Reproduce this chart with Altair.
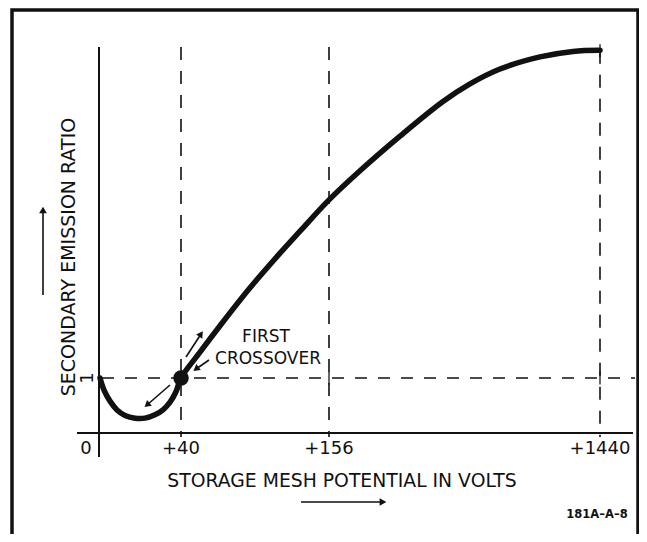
import altair as alt
import pandas as pd

# ---- data ----
volts = [0, 1.98, 4.94, 8.40, 12.35, 17.28, 22.22, 27.16, 31.11, 34.57, 37.53, 40,
         54.9, 70.6, 94.1, 117.6, 133.3, 156,
         302.9, 492.4, 696.1, 824.1, 966.2, 1155.7, 1312.1, 1440]
ratio = [1.0, 0.78, 0.58, 0.42, 0.32, 0.27, 0.27, 0.33, 0.42, 0.56, 0.75, 1.0,
         1.47, 1.95, 2.64, 3.27, 3.67, 4.24,
         4.77, 5.40, 6.03, 6.35, 6.62, 6.84, 6.94, 6.96]
tick_values = [0, 40, 156, 1440]
tick_labels = ["0", "+40", "+156", "+1440"]
guide_volts = [40, 156, 1440]
guide_tops = [7.02, 7.02, 6.95]
crossover_v = [40]
crossover_r = [1.0]
unity = [1.0]
cross_v = [156, 1440, 1440]
cross_r = [1.0, 1.0, 6.95]

curve_df = pd.DataFrame({"v": volts, "r": ratio})
ticks_df = pd.DataFrame({"v": tick_values, "label": tick_labels})
guides_df = pd.DataFrame({"v": guide_volts, "top": guide_tops})
dot_df = pd.DataFrame({"v": crossover_v, "r": crossover_r})
unity_df = pd.DataFrame({"r": unity})
cross_df = pd.DataFrame({"v": cross_v, "r": cross_r})
one = pd.DataFrame({"k": [0]})

FONT = "DejaVu Sans"
INK = "#111111"

xs = alt.Scale(domain=tick_values, range=[0, 81, 229, 500])
ys = alt.Scale(domain=[0, 7.02], nice=False, zero=True)
X = lambda f: alt.X(f, type="quantitative", scale=xs, axis=None)
Y = lambda f: alt.Y(f, type="quantitative", scale=ys, axis=None)

frame = alt.Chart(one).mark_rect(fillOpacity=0, stroke=INK, strokeWidth=3.5).encode(
    x=alt.value(-88), x2=alt.value(538), y=alt.value(-37), y2=alt.value(490))

yline = alt.Chart(one).mark_rule(color=INK, strokeWidth=2).encode(
    x=alt.value(-1), y=alt.value(0), y2=alt.value(410))
xline = alt.Chart(one).mark_rule(color=INK, strokeWidth=2).encode(
    x=alt.value(-23), x2=alt.value(533), y=alt.value(386))

vguides = alt.Chart(guides_df).mark_rule(color=INK, strokeWidth=1.6, strokeDash=[13, 11]).encode(
    x=X("v"), y=Y("top"), y2=alt.value(390))
hguide = alt.Chart(unity_df).mark_rule(color=INK, strokeWidth=1.6, strokeDash=[12, 11]).encode(
    y=Y("r"), x=alt.value(2), x2=alt.value(535))
crosses = alt.Chart(cross_df).mark_tick(orient="vertical", size=13, thickness=1.8, color=INK).encode(
    x=X("v"), y=Y("r"))

curve = alt.Chart(curve_df).mark_line(color=INK, strokeWidth=5.5, interpolate="catmull-rom",
                                      strokeCap="round").encode(x=X("v"), y=Y("r"))
dot = alt.Chart(dot_df).mark_circle(color=INK, size=240, opacity=1).encode(x=X("v"), y=Y("r"))

tlabels = alt.Chart(ticks_df).transform_filter("datum.v > 0").mark_text(
    font=FONT, fontSize=18, color=INK, baseline="middle", align="center").encode(
    x=X("v"), y=alt.value(402), text="label:N")
tlabel0 = alt.Chart(ticks_df).transform_filter("datum.v == 0").mark_text(
    font=FONT, fontSize=18, color=INK, baseline="middle", align="center", dx=-14).encode(
    x=X("v"), y=alt.value(402), text="label:N")
ylabel1 = alt.Chart(unity_df).mark_text(
    font=FONT, fontSize=18, color=INK, baseline="middle", align="center", angle=270).encode(
    y=Y("r"), x=alt.value(-12), text=alt.value("1"))

ytitle = alt.Chart(one).mark_text(font=FONT, fontSize=19, color=INK, angle=270,
                                  baseline="middle", align="center").encode(
    x=alt.value(-31), y=alt.value(210), text=alt.value("SECONDARY EMISSION RATIO"))
xtitle = alt.Chart(one).mark_text(font=FONT, fontSize=18.8, color=INK,
                                  baseline="middle", align="center").encode(
    x=alt.value(242), y=alt.value(434), text=alt.value("STORAGE MESH POTENTIAL IN  VOLTS"))
code = alt.Chart(one).mark_text(font=FONT, fontSize=11.5, fontWeight="bold", color=INK,
                                baseline="middle", align="center").encode(
    x=alt.value(497), y=alt.value(468), text=alt.value("181A–A–8"))
first = alt.Chart(one).mark_text(font=FONT, fontSize=17, color=INK,
                                 baseline="middle", align="center").encode(
    x=alt.value(166), y=alt.value(290), text=alt.value("FIRST"))
cross_t = alt.Chart(one).mark_text(font=FONT, fontSize=17, color=INK,
                                   baseline="middle", align="center").encode(
    x=alt.value(168), y=alt.value(312), text=alt.value("CROSSOVER"))

def arrow(x1, y1, x2, y2, ang, w=1.6, size=55):
    line = alt.Chart(one).mark_rule(color=INK, strokeWidth=w).encode(
        x=alt.value(x1), y=alt.value(y1), x2=alt.value(x2), y2=alt.value(y2))
    head = alt.Chart(one).mark_point(shape="triangle-up", filled=True, color=INK,
                                     size=size, angle=ang, opacity=1).encode(
        x=alt.value(x2), y=alt.value(y2))
    return [line, head]

arrows = []
arrows += arrow(-57, 248, -57, 163, 0, w=1.6, size=60)      # y-title arrow
arrows += arrow(201, 455, 283, 455, 90, w=1.6, size=60)     # x-title arrow
arrows += arrow(86, 310, 101, 287, 34)                      # up along curve
arrows += arrow(109, 313, 96, 322, 233)                     # pointer to dot
arrows += arrow(70, 338, 47, 358, 230)                      # down along curve

chart = alt.layer(
    frame, yline, xline, vguides, hguide, crosses, curve, dot,
    tlabels, tlabel0, ylabel1, ytitle, xtitle, code, first, cross_t, *arrows
).properties(
    width=533, height=386,
    padding={"left": 92, "top": 39, "right": 6, "bottom": 101},
    autosize="none", background="white"
).configure_view(stroke=None)

chart.save("out.html", embed_options={"renderer": "svg", "actions": False})
